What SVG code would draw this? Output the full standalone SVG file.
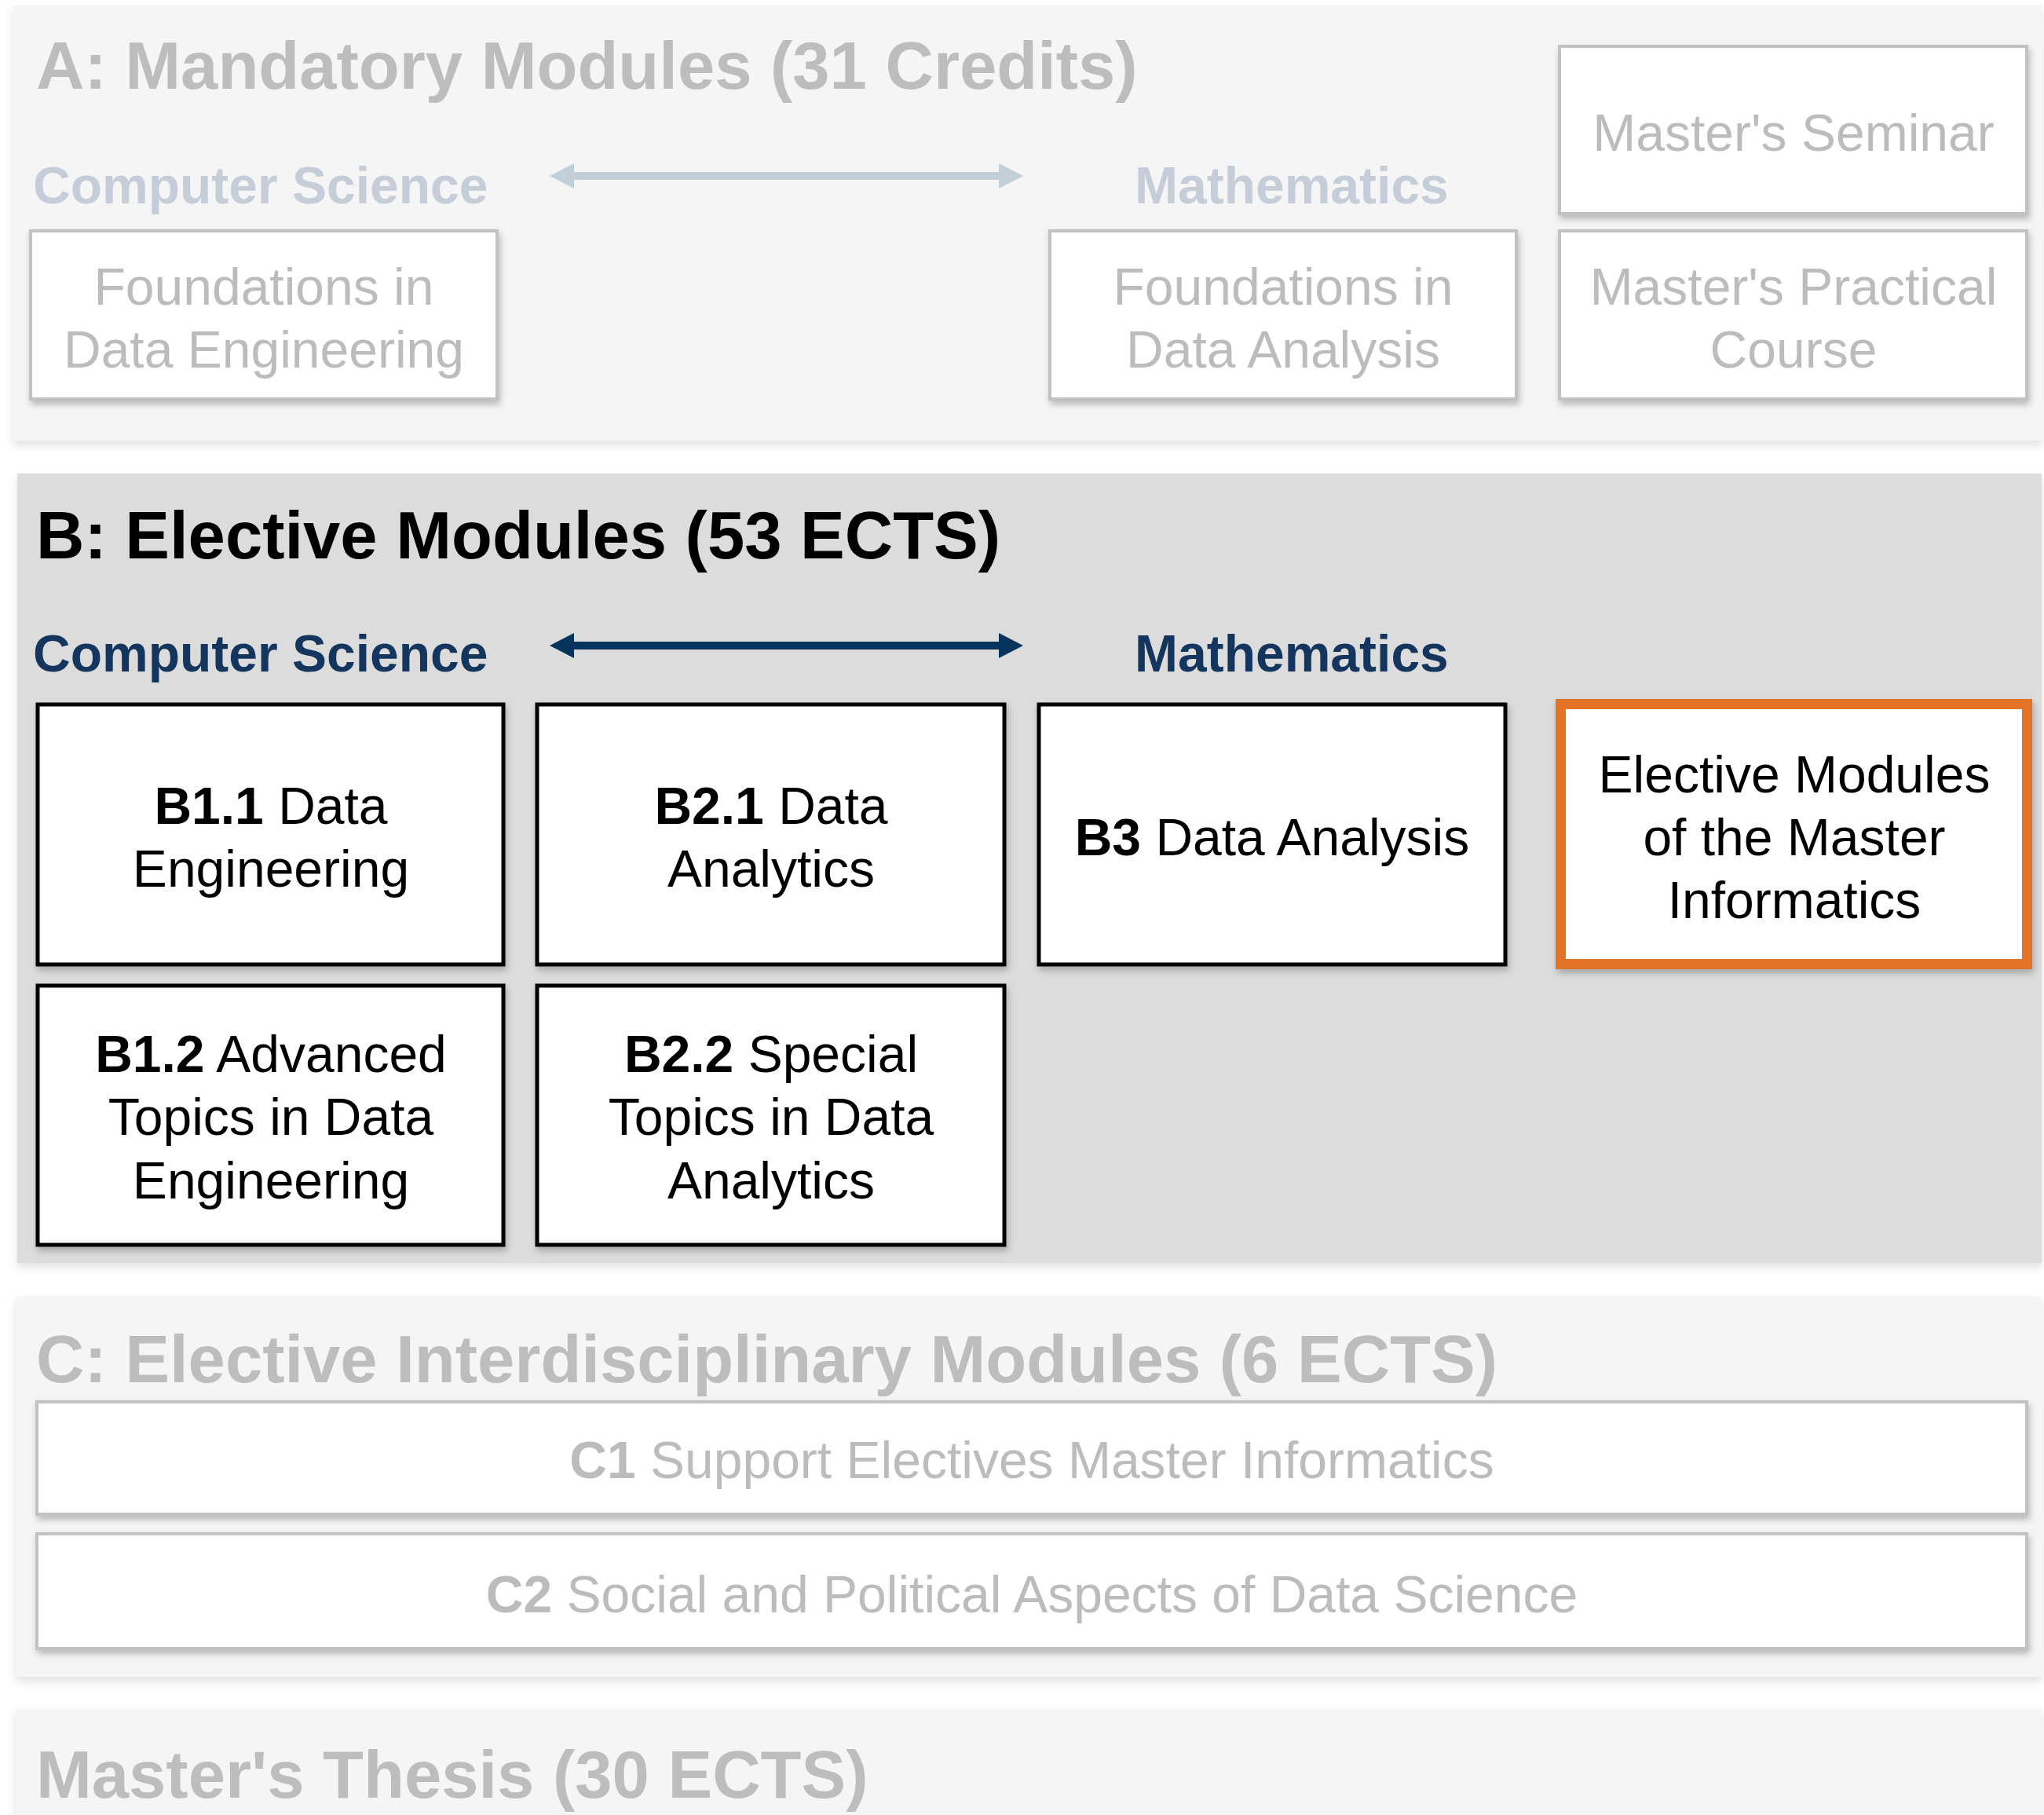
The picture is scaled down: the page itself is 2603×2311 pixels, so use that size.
<svg xmlns="http://www.w3.org/2000/svg" width="2603" height="2311" viewBox="0 0 2603 2311">
<style>
text{font-family:"Liberation Sans",Arial,Helvetica,sans-serif}
.title{font-size:85px;font-weight:bold}
.sub{font-size:66px;font-weight:bold}
.bt{font-size:66px;text-anchor:middle}
.gray{fill:#bdbdbd}
.grayt{fill:#bcbcbc}
.csA{fill:#c5ced8}
.csB{fill:#14365e}
.boxA{fill:#ffffff;stroke:#c2c2c2;stroke-width:4}
.boxB{fill:#ffffff;stroke:#000000;stroke-width:5}
</style>
<defs>
<filter id="psh" x="-5%" y="-10%" width="110%" height="125%">
<feDropShadow dx="0" dy="6" stdDeviation="6" flood-color="#000" flood-opacity="0.12"/>
</filter>
<filter id="bsh" x="-10%" y="-10%" width="120%" height="130%">
<feDropShadow dx="2" dy="5" stdDeviation="4" flood-color="#000" flood-opacity="0.25"/>
</filter>
<marker id="ahA" viewBox="0 -16 31 32" refX="0" refY="0" markerWidth="31" markerHeight="32" markerUnits="userSpaceOnUse" orient="auto-start-reverse">
<path d="M0,-16 L31,0 L0,16 Z" fill="#c2ced8"/>
</marker>
<marker id="ahB" viewBox="0 -16 31 32" refX="0" refY="0" markerWidth="31" markerHeight="32" markerUnits="userSpaceOnUse" orient="auto-start-reverse">
<path d="M0,-16 L31,0 L0,16 Z" fill="#06345c"/>
</marker>
</defs>
<rect x="0" y="0" width="2603" height="2311" fill="#ffffff"/>

<g id="panelA">
<rect x="17" y="7" width="2583" height="554" fill="#f5f5f5" filter="url(#psh)"/>
<text class="title gray" x="46" y="113">A: Mandatory Modules (31 Credits)</text>
<text class="sub csA" x="42" y="259">Computer Science</text>
<text class="sub csA" x="1445" y="259">Mathematics</text>
</g>
<g id="A_fde" filter="url(#bsh)">
<rect class="boxA" x="39" y="294" width="594" height="214"/>
<text class="bt grayt" x="336" y="388">Foundations in</text>
<text class="bt grayt" x="336" y="468">Data Engineering</text>
</g>
<g id="A_fda" filter="url(#bsh)">
<rect class="boxA" x="1337" y="294" width="594" height="214"/>
<text class="bt grayt" x="1634" y="388">Foundations in</text>
<text class="bt grayt" x="1634" y="468">Data Analysis</text>
</g>
<g id="A_seminar" filter="url(#bsh)">
<rect class="boxA" x="1986" y="59" width="595" height="213"/>
<text class="bt grayt" x="2284" y="192">Master's Seminar</text>
</g>
<g id="A_practical" filter="url(#bsh)">
<rect class="boxA" x="1986" y="294" width="595" height="214"/>
<text class="bt grayt" x="2284" y="388">Master's Practical</text>
<text class="bt grayt" x="2284" y="468">Course</text>
</g>

<g id="panelB">
<rect x="22" y="603" width="2578" height="1005" fill="#dcdcdc" filter="url(#psh)"/>
<text class="title" x="46" y="711" fill="#000">B: Elective Modules (53 ECTS)</text>
<text class="sub csB" x="42" y="855">Computer Science</text>
<text class="sub csB" x="1445" y="855">Mathematics</text>
</g>
<g id="B11" filter="url(#bsh)">
<rect class="boxB" x="48" y="897" width="593" height="331"/>
<text class="bt" x="345" y="1049"><tspan font-weight="bold">B1.1</tspan> Data</text>
<text class="bt" x="345" y="1129">Engineering</text>
</g>
<g id="B21" filter="url(#bsh)">
<rect class="boxB" x="684" y="897" width="595" height="331"/>
<text class="bt" x="982" y="1049"><tspan font-weight="bold">B2.1</tspan> Data</text>
<text class="bt" x="982" y="1129">Analytics</text>
</g>
<g id="B3" filter="url(#bsh)">
<rect class="boxB" x="1323" y="897" width="594" height="331"/>
<text class="bt" x="1620" y="1089"><tspan font-weight="bold">B3</tspan> Data Analysis</text>
</g>
<g id="B_informatics" filter="url(#bsh)">
<rect x="1987.5" y="896.5" width="594" height="331" fill="#ffffff" stroke="#e37326" stroke-width="13"/>
<text class="bt" x="2285" y="1009">Elective Modules</text>
<text class="bt" x="2285" y="1089">of the Master</text>
<text class="bt" x="2285" y="1169">Informatics</text>
</g>
<g id="B12" filter="url(#bsh)">
<rect class="boxB" x="48" y="1255" width="593" height="330"/>
<text class="bt" x="345" y="1365"><tspan font-weight="bold">B1.2</tspan> Advanced</text>
<text class="bt" x="345" y="1445">Topics in Data</text>
<text class="bt" x="345" y="1526">Engineering</text>
</g>
<g id="B22" filter="url(#bsh)">
<rect class="boxB" x="684" y="1255" width="595" height="330"/>
<text class="bt" x="982" y="1365"><tspan font-weight="bold">B2.2</tspan> Special</text>
<text class="bt" x="982" y="1445">Topics in Data</text>
<text class="bt" x="982" y="1526">Analytics</text>
</g>

<g id="panelC">
<rect x="20" y="1651" width="2580" height="484" fill="#f5f5f5" filter="url(#psh)"/>
<text class="title gray" x="46" y="1760">C: Elective Interdisciplinary Modules (6 ECTS)</text>
</g>
<g id="C1" filter="url(#bsh)">
<rect class="boxA" x="47" y="1785" width="2534" height="143"/>
<text class="bt grayt" x="1314" y="1882"><tspan font-weight="bold">C1</tspan> Support Electives Master Informatics</text>
</g>
<g id="C2" filter="url(#bsh)">
<rect class="boxA" x="47" y="1953" width="2534" height="146"/>
<text class="bt grayt" x="1314" y="2053"><tspan font-weight="bold">C2</tspan> Social and Political Aspects of Data Science</text>
</g>

<g id="thesis">
<rect x="20" y="2176" width="2580" height="150" fill="#f5f5f5" filter="url(#psh)"/>
<text class="title gray" x="46" y="2289">Master's Thesis (30 ECTS)</text>
</g>

<g id="connectors">
<line x1="731" y1="224" x2="1272" y2="224" stroke="#c2ced8" stroke-width="10" marker-start="url(#ahA)" marker-end="url(#ahA)"/>
<line x1="731" y1="822" x2="1272" y2="822" stroke="#06345c" stroke-width="10" marker-start="url(#ahB)" marker-end="url(#ahB)"/>
</g>
</svg>
